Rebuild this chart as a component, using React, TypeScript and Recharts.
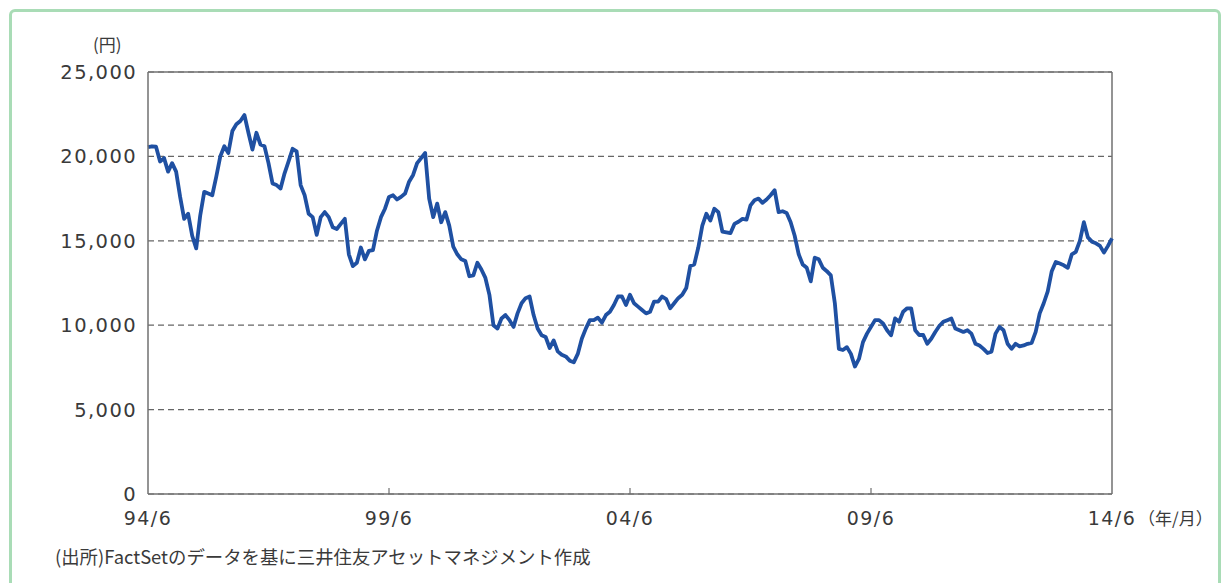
import React from "react";
import { LineChart, Line, XAxis, YAxis, CartesianGrid, ReferenceLine } from "recharts";

// month-end prices (yen), one value per month from 94/6 to 14/6
const prices94to99 = [
  20550, 20600, 20575, 19700, 19900, 19100, 19600, 19100, 17600, 16300,
  16600, 15300, 14550, 16500, 17900, 17800, 17700, 18800, 20000, 20600,
  20200, 21500, 21900, 22100, 22450, 21400, 20400, 21400, 20700, 20600,
  19600, 18400, 18300, 18100, 19000, 19700, 20450, 20300, 18300, 17700,
  16600, 16400, 15350, 16400, 16700, 16400, 15800, 15700, 16000, 16300,
  14200, 13500, 13700, 14600, 13900, 14400, 14450, 15600, 16400, 16900,
];
const prices99to04 = [
  17600, 17700, 17450, 17600, 17800, 18500, 18900, 19600, 19900, 20200,
  17500, 16400, 17200, 16100, 16700, 15900, 14650, 14200, 13900, 13800,
  12900, 12950, 13700, 13300, 12800, 11800, 10000, 9800, 10400, 10600,
  10300, 9900, 10700, 11300, 11600, 11700, 10600, 9800, 9400, 9300,
  8650, 9100, 8450, 8250, 8150, 7900, 7800, 8300, 9200, 9800,
  10300, 10300, 10450, 10150, 10600, 10800, 11200, 11700, 11700, 11200,
];
const prices04to09 = [
  11800, 11300, 11100, 10900, 10700, 10800, 11400, 11400, 11700, 11550,
  11000, 11300, 11600, 11800, 12200, 13500, 13600, 14600, 15900, 16600,
  16200, 16900, 16700, 15550, 15500, 15450, 16000, 16130, 16300, 16250,
  17100, 17400, 17500, 17250, 17450, 17700, 18000, 16700, 16750, 16650,
  16100, 15300, 14200, 13600, 13400, 12600, 14000, 13900, 13400, 13200,
  12950, 11300, 8600, 8530, 8700, 8300, 7550, 8000, 9000, 9500,
];
const prices09to14 = [
  9900, 10300, 10300, 10100, 9700, 9400, 10400, 10200, 10800, 11000,
  11000, 9700, 9420, 9420, 8900, 9200, 9600, 9950, 10200, 10300,
  10400, 9800, 9700, 9600, 9700, 9500, 8900, 8800, 8600, 8350,
  8430, 9500, 9900, 9700, 8900, 8600, 8900, 8750, 8800, 8900,
  8950, 9600, 10700, 11300, 12000, 13200, 13750, 13650, 13550, 13400,
  14200, 14350, 15000, 16100, 15200, 14950, 14850, 14700, 14300, 14700,
  15150,
];

const xTickIndex = [0, 60, 120, 180, 240];
const xTickLabels = ["94/6", "99/6", "04/6", "09/6", "14/6"];
const yTicks = [0, 5000, 10000, 15000, 20000, 25000];

const prices = [...prices94to99, ...prices99to04, ...prices04to09, ...prices09to14];
const data = prices.map((v, i) => ({ i, price: v }));

const NUM_FONT = "'DejaVu Sans', sans-serif";
const JP_FONT = "'Noto Sans CJK JP', sans-serif";
const TEXT = "#3a3a3a";
const AXIS = "#707070";

function XTick(props: any) {
  const { x, y, payload } = props;
  const idx = xTickIndex.indexOf(payload.value);
  const label = xTickLabels[idx];
  const last = idx === xTickIndex.length - 1;
  return (
    <g>
      {idx > 0 && !last && <line x1={x} x2={x} y1={y - 6} y2={y} stroke={AXIS} strokeWidth={1.2} />}
      <text x={x} y={y + 31} textAnchor="middle" fill={TEXT} fontSize={19} fontFamily={NUM_FONT} letterSpacing={1.4}>
        {label}
      </text>
      {last && (
        <text x={x + 26} y={y + 31} textAnchor="start" fill={TEXT} fontSize={17} fontFamily={JP_FONT}>
          （年/月）
        </text>
      )}
    </g>
  );
}

function YTick(props: any) {
  const { x, y, payload } = props;
  return (
    <text x={x} y={y + 7} textAnchor="end" fill={TEXT} fontSize={19.5} fontFamily={NUM_FONT} letterSpacing={1.4}>
      {payload.value.toLocaleString("en-US")}
    </text>
  );
}

export default function App() {
  return (
    <div style={{ position: "fixed", left: 0, top: 0, width: 1224, height: 583, background: "#fff", overflow: "hidden" }}>
      <div
        style={{
          position: "absolute",
          left: 9,
          top: 9,
          width: 1206,
          height: 640,
          border: "3px solid #a9dcb6",
          borderRadius: 6,
        }}
      />
      <div
        style={{
          position: "absolute",
          left: 93,
          top: 32,
          fontFamily: JP_FONT,
          fontSize: 17,
          color: TEXT,
          lineHeight: "24px",
        }}
      >
        (円)
      </div>
      <div
        style={{
          position: "absolute",
          left: 55,
          top: 543,
          fontFamily: JP_FONT,
          fontSize: 18.4,
          color: TEXT,
          lineHeight: "26px",
          whiteSpace: "nowrap",
        }}
      >
        (出所)FactSetのデータを基に三井住友アセットマネジメント作成
      </div>
      <div style={{ position: "absolute", left: 0, top: 0 }}>
        <LineChart width={1224} height={583} data={data} margin={{ top: 72, right: 112, bottom: 59, left: 88 }}>
          <CartesianGrid vertical={false} stroke="#666" strokeDasharray="6 4" strokeWidth={1.2} />
          <XAxis
            dataKey="i"
            type="number"
            domain={[0, 240]}
            ticks={xTickIndex}
            interval={0}
            height={30}
            tickSize={0}
            tickMargin={0}
            tickLine={false}
            axisLine={{ stroke: AXIS, strokeWidth: 1.5 }}
            tick={<XTick />}
          />
          <YAxis
            domain={[0, 25000]}
            ticks={yTicks}
            interval={0}
            width={60}
            tickSize={0}
            tickMargin={11}
            tickLine={false}
            axisLine={{ stroke: AXIS, strokeWidth: 1.5 }}
            tick={<YTick />}
          />
          <ReferenceLine y={25000} stroke={AXIS} strokeWidth={1.5} />
          <ReferenceLine x={240} stroke={AXIS} strokeWidth={1.5} />
          <Line
            type="linear"
            dataKey="price"
            stroke="#1f50a2"
            strokeWidth={3.8}
            dot={false}
            isAnimationActive={false}
            strokeLinejoin="round"
          />
        </LineChart>
      </div>
    </div>
  );
}
